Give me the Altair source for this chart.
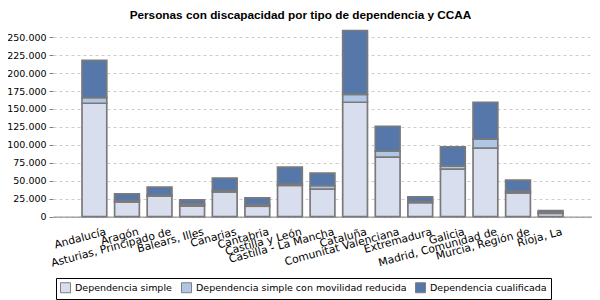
import altair as alt
import pandas as pd

comunidades = [
    "Andalucía", "Aragón", "Asturias, Principado de", "Balears, Illes",
    "Canarias", "Cantabria", "Castilla y León", "Castilla - La Mancha",
    "Cataluña", "Comunitat Valenciana", "Extremadura", "Galicia",
    "Madrid, Comunidad de", "Murcia, Región de", "Rioja, La",
]
dep_simple = [157900, 20400, 28700, 14800, 34300, 14400, 43500, 38400,
              159300, 82900, 19500, 66200, 95400, 32900, 4600]
dep_movilidad = [7900, 1900, 1400, 2800, 1900, 2300, 1900, 4600,
                 11100, 8300, 1900, 4200, 12500, 2300, 900]
dep_cualificada = [51900, 9300, 11100, 5600, 17600, 9300, 23600, 17600,
                   88900, 34700, 6000, 26900, 51400, 15700, 2800]

series = ["Dependencia simple", "Dependencia simple con movilidad reducida",
          "Dependencia cualificada"]
colores = ["#D9DEEF", "#AFC7E4", "#5677A9"]

rows = []
for i, c in enumerate(comunidades):
    for j, vals in enumerate([dep_simple, dep_movilidad, dep_cualificada]):
        rows.append({"CCAA": c, "Tipo": series[j], "orden": j, "Personas": vals[i]})
df = pd.DataFrame(rows)

FONT = "DejaVu Sans"

chart = alt.Chart(df).mark_bar(stroke="#7a7a7a", strokeWidth=1.7).encode(
    x=alt.X("CCAA:N", sort=comunidades, title=None,
            scale=alt.Scale(paddingInner=0.24, paddingOuter=0.89),
            axis=alt.Axis(labelAngle=345, labelAlign="right", labelBaseline="top",
                          ticks=False, labelPadding=9, labelOffset=10,
                          domainColor="#808080",
                          domainWidth=1, labelFont=FONT, labelFontSize=10.8,
                          labelColor="#000000", labelOverlap=False, grid=False)),
    y=alt.Y("Personas:Q", title=None,
            scale=alt.Scale(domain=[0, 260000], nice=False),
            axis=alt.Axis(values=list(range(0, 250001, 25000)),
                          labelExpr="replace(format(datum.value, ','), ',', '.')",
                          domain=False, tickSize=4, tickColor="#808080",
                          gridColor="#cccccc", gridDash=[3, 3], gridWidth=1,
                          labelFont=FONT, labelFontSize=9.5, labelColor="#000000",
                          labelPadding=3)),
    color=alt.Color("Tipo:N", sort=series,
                    scale=alt.Scale(domain=series, range=colores),
                    legend=alt.Legend(title=None, orient="none", direction="horizontal",
                                      legendX=3, legendY=248,
                                      strokeColor="#000000", fillColor="#ffffff",
                                      padding=4, symbolType="square", symbolSize=100,
                                      symbolStrokeColor="#808080", symbolStrokeWidth=1,
                                      labelFont=FONT, labelFontSize=9.5,
                                      labelColor="#000000", columnPadding=6,
                                      labelOffset=4, labelLimit=400)),
    order=alt.Order("orden:Q", sort="ascending"),
).properties(
    width=539, height=186.6,
    title=alt.Title("Personas con discapacidad por tipo de dependencia y CCAA",
                    font="Liberation Sans", fontSize=11.8, fontWeight="bold",
                    anchor="middle", dx=-22, offset=8, color="#000000"),
    autosize=alt.AutoSizeParams(type="none"),
    padding={"left": 45, "top": 22, "right": 0, "bottom": 83},
).configure_view(stroke=None)

chart.save("out.html", embed_options={"renderer": "svg", "actions": False})
